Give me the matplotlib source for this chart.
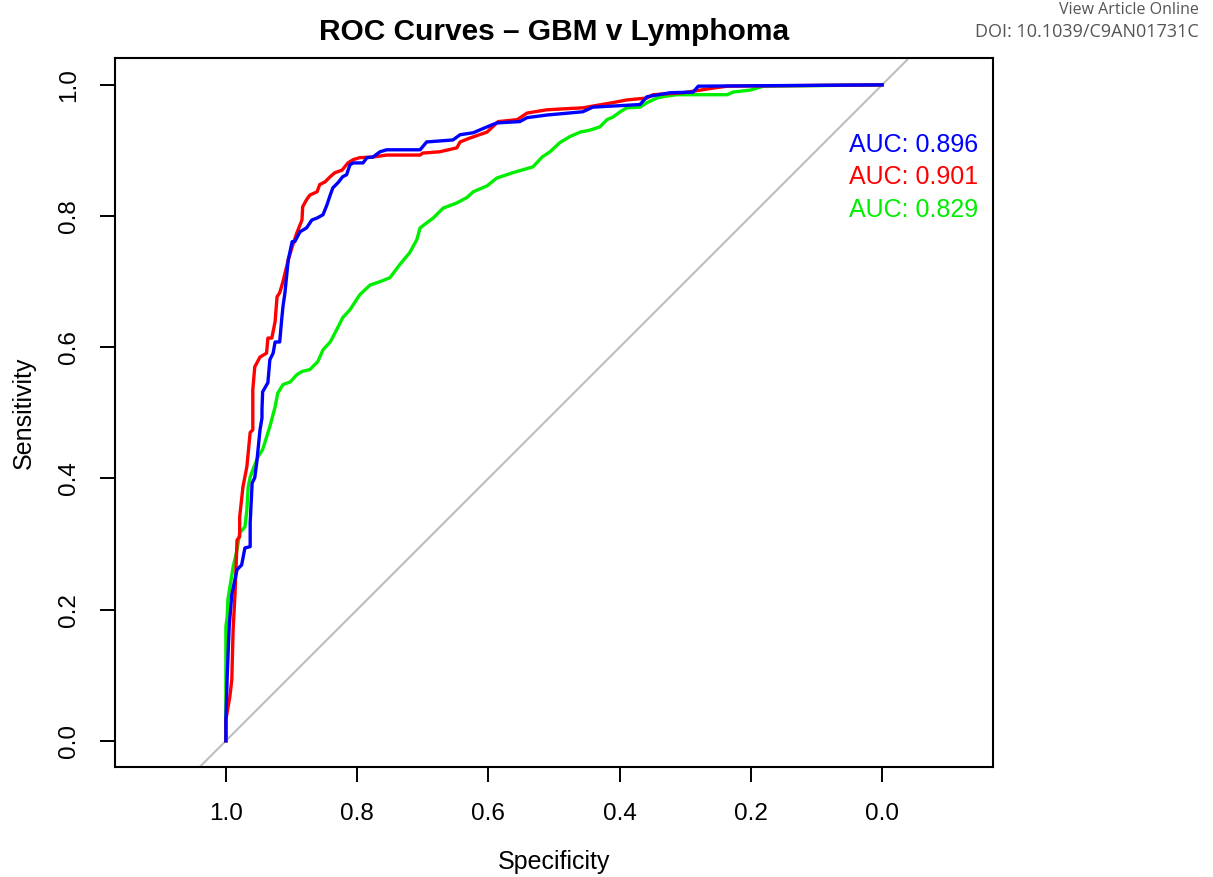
import matplotlib
matplotlib.use("Agg")
import matplotlib.pyplot as plt

# ROC curves: (specificity, sensitivity)
blue_spec = [1.000, 1.000, 0.998, 0.995, 0.991, 0.983, 0.976, 0.971, 0.963, 0.963, 0.960, 0.956,
             0.953, 0.951, 0.948, 0.945, 0.945, 0.944, 0.936, 0.933, 0.928, 0.925, 0.918, 0.915,
             0.913, 0.910, 0.907, 0.905, 0.899, 0.895, 0.887, 0.877, 0.869, 0.861, 0.852, 0.846,
             0.841, 0.837, 0.829, 0.822, 0.816, 0.811, 0.806, 0.791, 0.785, 0.776, 0.765, 0.755,
             0.704, 0.694, 0.654, 0.643, 0.623, 0.602, 0.587, 0.552, 0.541, 0.511, 0.456, 0.441,
             0.369, 0.358, 0.323, 0.288, 0.280, 0.000]
blue_sens = [0.000, 0.032, 0.098, 0.174, 0.223, 0.261, 0.268, 0.294, 0.296, 0.332, 0.393, 0.401,
             0.424, 0.444, 0.474, 0.492, 0.505, 0.532, 0.546, 0.581, 0.591, 0.608, 0.608, 0.642,
             0.662, 0.683, 0.713, 0.733, 0.761, 0.761, 0.776, 0.782, 0.794, 0.797, 0.802, 0.817,
             0.832, 0.843, 0.851, 0.860, 0.863, 0.878, 0.881, 0.881, 0.889, 0.890, 0.898, 0.901,
             0.901, 0.913, 0.916, 0.924, 0.927, 0.936, 0.942, 0.944, 0.950, 0.954, 0.959, 0.966,
             0.970, 0.982, 0.988, 0.989, 0.998, 1.000]

red_spec = [1.000, 1.000, 0.994, 0.991, 0.989, 0.986, 0.983, 0.979, 0.979, 0.974, 0.968, 0.966,
            0.963, 0.959, 0.959, 0.956, 0.948, 0.938, 0.936, 0.930, 0.925, 0.922, 0.918, 0.913,
            0.905, 0.899, 0.892, 0.884, 0.883, 0.877, 0.872, 0.861, 0.857, 0.849, 0.841, 0.834,
            0.823, 0.814, 0.806, 0.796, 0.776, 0.755, 0.704, 0.700, 0.674, 0.648, 0.643, 0.628,
            0.602, 0.585, 0.556, 0.541, 0.511, 0.456, 0.410, 0.389, 0.358, 0.349, 0.303, 0.277,
            0.258, 0.236, 0.000]
red_sens = [0.000, 0.032, 0.067, 0.093, 0.169, 0.226, 0.306, 0.311, 0.341, 0.387, 0.418, 0.439,
            0.470, 0.474, 0.535, 0.570, 0.585, 0.591, 0.614, 0.614, 0.639, 0.677, 0.683, 0.700,
            0.733, 0.753, 0.774, 0.794, 0.814, 0.825, 0.832, 0.837, 0.848, 0.852, 0.860, 0.866,
            0.870, 0.881, 0.886, 0.889, 0.890, 0.893, 0.893, 0.896, 0.898, 0.904, 0.913, 0.919,
            0.928, 0.944, 0.947, 0.957, 0.962, 0.965, 0.973, 0.977, 0.980, 0.985, 0.988, 0.992,
            0.995, 0.998, 1.000]

green_spec = [1.000, 1.000, 1.000, 0.998, 0.997, 0.989, 0.983, 0.979, 0.971, 0.968, 0.966, 0.963,
              0.959, 0.951, 0.944, 0.938, 0.933, 0.925, 0.921, 0.913, 0.902, 0.892, 0.884, 0.872,
              0.860, 0.852, 0.841, 0.831, 0.822, 0.811, 0.796, 0.780, 0.765, 0.750, 0.735, 0.720,
              0.709, 0.704, 0.684, 0.669, 0.648, 0.633, 0.623, 0.602, 0.587, 0.563, 0.532, 0.518,
              0.506, 0.491, 0.476, 0.460, 0.445, 0.430, 0.419, 0.410, 0.399, 0.389, 0.369, 0.358,
              0.343, 0.334, 0.313, 0.236, 0.227, 0.201, 0.181, 0.000]
green_sens = [0.000, 0.070, 0.174, 0.189, 0.215, 0.265, 0.291, 0.317, 0.326, 0.352, 0.387, 0.402,
              0.413, 0.433, 0.444, 0.463, 0.479, 0.509, 0.530, 0.543, 0.547, 0.558, 0.563, 0.566,
              0.578, 0.596, 0.608, 0.627, 0.645, 0.657, 0.680, 0.695, 0.700, 0.706, 0.726, 0.744,
              0.764, 0.782, 0.797, 0.812, 0.820, 0.828, 0.837, 0.846, 0.858, 0.866, 0.875, 0.890,
              0.898, 0.912, 0.921, 0.928, 0.931, 0.936, 0.947, 0.951, 0.959, 0.965, 0.966, 0.973,
              0.980, 0.982, 0.985, 0.985, 0.989, 0.992, 0.998, 1.000]

auc_labels = ["AUC: 0.896", "AUC: 0.901", "AUC: 0.829"]
auc_colors = ["#0000FF", "#FF0000", "#00EE00"]
ticks = [0.0, 0.2, 0.4, 0.6, 0.8, 1.0]

plt.rcParams["font.family"] = ["Liberation Sans", "DejaVu Sans"]

fig = plt.figure(figsize=(12.13, 8.77), dpi=100)
ax = fig.add_axes([0.0948, 0.1254, 0.7238, 0.8085])

ax.axline((1.0, 0.0), (0.0, 1.0), color="#BEBEBE", lw=1.5, zorder=1)
ax.plot(green_spec, green_sens, color=auc_colors[2], lw=2.4, zorder=2)
ax.plot(red_spec, red_sens, color=auc_colors[1], lw=2.4, zorder=3)
ax.plot(blue_spec, blue_sens, color=auc_colors[0], lw=2.4, zorder=4)

# AUC annotations
for i, (lab, col) in enumerate(zip(auc_labels, auc_colors)):
    ax.text(0.05, 0.909 - i * 0.05, lab, color=col, fontsize=18,
            ha="left", va="center")

ax.set_xlim(1.169, -0.169)
ax.set_ylim(-0.04, 1.041)
ax.set_xticks(ticks)
ax.set_xticklabels([f"{t:.1f}" for t in ticks])
ax.set_yticks(ticks)
ax.set_yticklabels([f"{t:.1f}" for t in ticks], rotation=90, va="center")
ax.tick_params(axis="both", labelsize=17.5, length=11, width=1.4, direction="out")
ax.tick_params(axis="x", pad=15)
ax.tick_params(axis="y", pad=14)
for s in ax.spines.values():
    s.set_linewidth(1.5)

ax.set_xlabel("Specificity", fontsize=18, labelpad=18)
ax.set_ylabel("Sensitivity", fontsize=18, labelpad=16)
ax.set_title("ROC Curves \u2013 GBM v Lymphoma", fontsize=21.5, fontweight="bold", pad=13)

fig.text(0.988, 0.989, "View Article Online", ha="right", va="center",
         fontsize=11.5, color="#555555", family=["Open Sans", "DejaVu Sans"])
fig.text(0.988, 0.964, "DOI: 10.1039/C9AN01731C", ha="right", va="center",
         fontsize=13, color="#555555", family=["Open Sans", "DejaVu Sans"])

plt.savefig("out.png", dpi=100)
plt.close()
